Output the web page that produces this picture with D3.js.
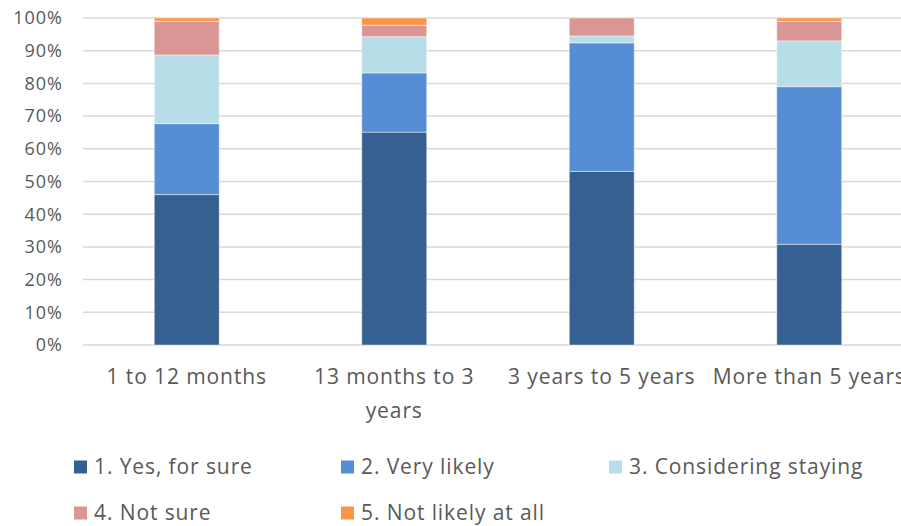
<!DOCTYPE html>
<html>
<head>
<meta charset="utf-8">
<script src="https://cdn.jsdelivr.net/npm/d3@7"></script>
<style>
  body { margin: 0; background: #fff; }
  svg { display: block; font-family: "Open Sans", Lato, sans-serif; }
</style>
</head>
<body>
<svg id="chart"></svg>
<script>
// Chart data
const categories = ["1 to 12 months", "13 months to 3 years", "3 years to 5 years", "More than 5 years"];
const seriesNames = ["1. Yes, for sure", "2. Very likely", "3. Considering staying", "4. Not sure", "5. Not likely at all"];
const seriesColors = ["#376092", "#558ED5", "#B7DEE8", "#D99694", "#F79646"];
const yesForSure = [46.0, 65.1, 53.1, 30.8];
const veryLikely = [21.7, 18.1, 39.3, 48.2];
const considering = [21.0, 11.1, 2.1, 14.0];
const notSure = [10.3, 3.5, 5.5, 6.0];
const notLikely = [1.0, 2.2, 0.0, 1.0];
const yTicks = [0, 10, 20, 30, 40, 50, 60, 70, 80, 90, 100];

const W = 901, H = 526;
const svg = d3.select("#chart").attr("width", W).attr("height", H);

const plot = {left: 83, right: 913, top: 18, bottom: 345};

// Build stacked rows
const rows = categories.map((c, i) => ({
    cat: c,
    s0: yesForSure[i], s1: veryLikely[i], s2: considering[i], s3: notSure[i], s4: notLikely[i]
}));
const keys = ["s0", "s1", "s2", "s3", "s4"];
const stacked = d3.stack().keys(keys)(rows);

const x = d3.scaleBand()
    .domain(categories)
    .range([plot.left, plot.right])
    .paddingInner(0.687)
    .paddingOuter(0.3435);

const y = d3.scaleLinear()
    .domain([0, 100])
    .range([plot.bottom, plot.top]);

// Gridlines
svg.append("g")
    .selectAll("line")
    .data(yTicks)
    .join("line")
    .attr("x1", plot.left)
    .attr("x2", W)
    .attr("y1", d => y(d))
    .attr("y2", d => y(d))
    .attr("stroke", "#D9D9D9")
    .attr("stroke-width", 1.5);

// Y tick labels
svg.append("g")
    .selectAll("text")
    .data(yTicks)
    .join("text")
    .attr("x", 63)
    .attr("y", d => y(d))
    .attr("dy", "0.35em")
    .attr("text-anchor", "end")
    .attr("fill", "#595959")
    .style("font-size", "18px")
    .style("letter-spacing", "1px")
    .text(d => d + "%");

// Bars
svg.append("g")
    .selectAll("g")
    .data(stacked)
    .join("g")
    .attr("fill", (d, i) => seriesColors[i])
    .selectAll("rect")
    .data(d => d)
    .join("rect")
    .attr("x", d => x(d.data.cat))
    .attr("width", x.bandwidth())
    .attr("y", d => y(d[1]))
    .attr("height", d => y(d[0]) - y(d[1]))
    .attr("stroke", "rgba(255,255,255,0.45)")
    .attr("stroke-width", 1);

// X labels with wrapping
const xLabels = svg.append("g");
categories.forEach(c => {
    const cx = x(c) + x.bandwidth() / 2;
    const t = xLabels.append("text")
        .attr("x", cx)
        .attr("y", 384)
        .attr("text-anchor", "middle")
        .attr("fill", "#595959")
        .style("font-size", "21px")
        .style("letter-spacing", "0.9px");
    const words = c.split(" ");
    let line = [];
    let tspan = t.append("tspan").attr("x", cx).attr("dy", 0);
    words.forEach(w => {
        line.push(w);
        tspan.text(line.join(" "));
        if (tspan.node().getComputedTextLength() > 205 && line.length > 1) {
            line.pop();
            tspan.text(line.join(" "));
            line = [w];
            tspan = t.append("tspan")
                .attr("x", cx)
                .attr("dy", 34)
                .text(w);
        }
    });
});

// Legend
const legendPos = [[74, 467], [341, 467], [609, 467], [74, 513], [341, 513]];
const legend = svg.append("g");
seriesNames.forEach((name, i) => {
    const [lx, ly] = legendPos[i];
    legend.append("rect")
        .attr("x", lx)
        .attr("y", ly - 6.5)
        .attr("width", 13)
        .attr("height", 13)
        .attr("fill", seriesColors[i]);
    legend.append("text")
        .attr("x", lx + 20)
        .attr("y", ly)
        .attr("dy", "0.35em")
        .attr("fill", "#595959")
        .style("font-size", "21px")
        .style("letter-spacing", "0.9px")
        .text(name);
});
</script>
</body>
</html>
